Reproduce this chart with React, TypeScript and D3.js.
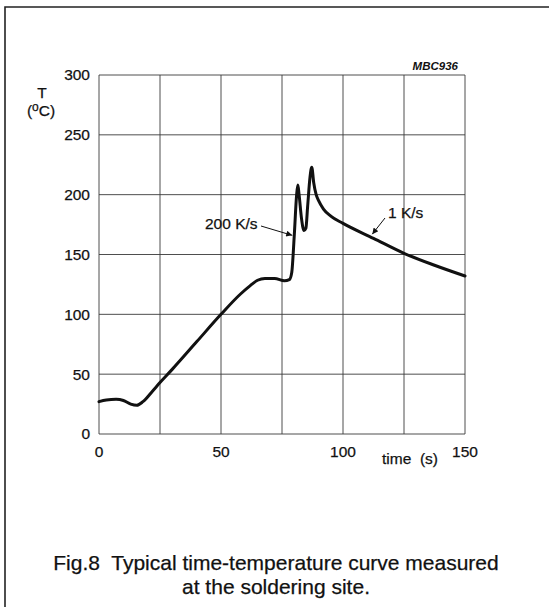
import React, { useRef, useEffect } from "react";
import * as d3 from "d3";

// time (s) and temperature (degC)
const timeValues = [
  0, 3, 7, 10, 13, 15.5, 18, 22, 25, 30, 40, 50, 58, 62, 65, 68, 72, 76, 78,
  79, 80, 81, 81.5, 82, 83, 84, 84.8, 85.5, 86.5, 87.2, 88, 89, 90, 92, 95,
  100, 112.5, 125, 137.5, 150,
];
const tempValues = [
  27, 28.5, 29, 28, 25, 24, 27, 36, 43, 54, 77, 100, 117, 124, 128.5, 130,
  130, 128, 129, 135, 165, 200, 208, 200, 180, 170, 172, 190, 215, 223, 210,
  200, 195, 188, 182, 176, 163.5, 151, 141, 132,
];
const xTicks = [0, 50, 100, 150];
const yTicks = [0, 50, 100, 150, 200, 250, 300];
const xGrid = [0, 25, 50, 75, 100, 125, 150];
const captionLines = [
  "Fig.8  Typical time-temperature curve measured",
  "at the soldering site.",
];

const W = 549;
const H = 607;
const FONT = "'Liberation Sans', Arial, Helvetica, sans-serif";

const App = () => {
  const svgRef = useRef(null);

  useEffect(() => {
    const svg = d3.select(svgRef.current);
    svg.selectAll("*").remove(); // clear

    const x = d3.scaleLinear().domain([0, 150]).range([99, 465]);
    const y = d3.scaleLinear().domain([0, 300]).range([434, 75]);

    // frame edges (top + left only, page is cropped)
    svg.append("path").attr("d", `M5,${H}V7H${W}`)
      .attr("fill", "none").attr("stroke", "#222").attr("stroke-width", 1.6);

    // grid
    const grid = svg.append("g").attr("stroke", "#3a3a3a").attr("stroke-width", 0.9);
    xGrid.forEach((v) => {
      grid.append("line").attr("x1", x(v)).attr("x2", x(v))
        .attr("y1", y(0)).attr("y2", y(300));
    });
    yTicks.forEach((v) => {
      grid.append("line").attr("x1", x(0)).attr("x2", x(150))
        .attr("y1", y(v)).attr("y2", y(v));
    });

    // light stroke gives the scanned print weight
    const txt = svg.append("g").attr("font-family", FONT).attr("fill", "#111")
      .attr("stroke", "#111").attr("stroke-width", 0.25);

    // y tick labels
    yTicks.forEach((v) => {
      txt.append("text").attr("x", 90).attr("y", y(v)).attr("dy", "0.35em")
        .attr("text-anchor", "end").attr("font-size", 15.5).text(v);
    });
    // x tick labels
    xTicks.forEach((v) => {
      txt.append("text").attr("x", x(v)).attr("y", 452).attr("dy", "0.35em")
        .attr("text-anchor", "middle").attr("font-size", 15.5).text(v);
    });

    // axis titles
    txt.append("text").attr("x", 410).attr("y", 464).attr("text-anchor", "middle")
      .attr("font-size", 15.5).style("white-space", "pre").text("time  (s)");
    txt.append("text").attr("x", 42).attr("y", 98).attr("text-anchor", "middle")
      .attr("font-size", 15.5).text("T");
    const unit = txt.append("text").attr("x", 41).attr("y", 116)
      .attr("text-anchor", "middle").attr("font-size", 15.5);
    unit.append("tspan").text("(");
    unit.append("tspan").attr("font-size", 12).attr("dy", -5).text("o");
    unit.append("tspan").attr("dy", 5).text("C)");

    // drawing code
    txt.append("text").attr("x", 458).attr("y", 70).attr("text-anchor", "end")
      .attr("font-size", 11.5).attr("font-weight", "bold").attr("font-style", "italic")
      .attr("stroke", "none").text("MBC936");

    // curve
    const data = timeValues.map((t, i) => ({ t, v: tempValues[i] }));
    const line = d3.line()
      .x((d) => x(d.t))
      .y((d) => y(d.v))
      .curve(d3.curveMonotoneX);
    svg.append("path").datum(data).attr("d", line)
      .attr("fill", "none").attr("stroke", "#111").attr("stroke-width", 3)
      .attr("stroke-linejoin", "round").attr("stroke-linecap", "round");

    // annotations with arrows
    svg.append("defs").append("marker").attr("id", "ah")
      .attr("viewBox", "0 0 10 10").attr("refX", 10).attr("refY", 5)
      .attr("markerWidth", 10).attr("markerHeight", 6)
      .attr("markerUnits", "userSpaceOnUse").attr("orient", "auto")
      .append("path").attr("d", "M0,0L10,5L0,10z").attr("fill", "#111");

    txt.append("text").attr("x", 205).attr("y", 224).attr("dy", "0.35em")
      .attr("font-size", 15.5).text("200 K/s");
    svg.append("line").attr("x1", 261).attr("y1", 226)
      .attr("x2", x(79.2)).attr("y2", y(166))
      .attr("stroke", "#111").attr("stroke-width", 1).attr("marker-end", "url(#ah)");

    txt.append("text").attr("x", 388).attr("y", 213).attr("dy", "0.35em")
      .attr("font-size", 15.5).text("1 K/s");
    svg.append("line").attr("x1", 385).attr("y1", 218)
      .attr("x2", x(112)).attr("y2", y(167))
      .attr("stroke", "#111").attr("stroke-width", 1).attr("marker-end", "url(#ah)");

    // caption
    captionLines.forEach((s, i) => {
      txt.append("text").attr("x", 276).attr("y", 563 + i * 24).attr("dy", "0.35em")
        .attr("text-anchor", "middle").attr("font-size", 21)
        .style("white-space", "pre").text(s);
    });
  }, []);

  return (
    <div>
      <style>{"body{margin:0;background:#fff}"}</style>
      <svg ref={svgRef} width={W} height={H} style={{ display: "block" }}></svg>
    </div>
  );
};

export default App;
